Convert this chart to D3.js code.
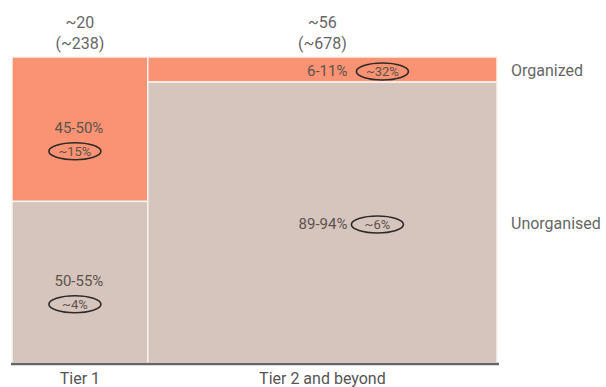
<!DOCTYPE html>
<html>
<head>
<meta charset="utf-8">
<script src="https://cdn.jsdelivr.net/npm/d3@7"></script>
<style>
  html, body { margin: 0; padding: 0; background: #fff; }
  svg { display: block; font-family: Roboto, 'Noto Sans', sans-serif; }
</style>
</head>
<body>
<svg id="chart" width="606" height="387"></svg>
<script>
const tiers = ['Tier 1', 'Tier 2 and beyond'];
const tierCounts = ['~20', '~56'];
const tierSubCounts = ['(~238)', '(~678)'];
const tierWidthShare = [28, 72];
const segments = ['Organized', 'Unorganised'];
const organizedShare = [47.2, 8.2];
const rangeLabels = [['45-50%', '50-55%'], ['6-11%', '89-94%']];
const growthLabels = [['~15%', '~4%'], ['~32%', '~6%']];

const svg = d3.select('#chart');
const x = d3.scaleLinear([0, 100], [12, 497]);
const y = d3.scaleLinear([0, 100], [57, 363]);
const color = d3.scaleOrdinal(segments, ['#f99373', '#d5c5bc']);

// build mosaic cells
const cells = [];
let x0 = 0;
tiers.forEach((t, i) => {
  const w = tierWidthShare[i];
  const org = organizedShare[i];
  cells.push({ tier: i, seg: 0, x0, x1: x0 + w, y0: 0, y1: org });
  cells.push({ tier: i, seg: 1, x0, x1: x0 + w, y0: org, y1: 100 });
  x0 += w;
});

svg.append('g').selectAll('rect').data(cells).join('rect')
  .attr('x', (d) => x(d.x0)).attr('y', (d) => y(d.y0))
  .attr('width', (d) => x(d.x1) - x(d.x0)).attr('height', (d) => y(d.y1) - y(d.y0))
  .attr('fill', (d) => color(segments[d.seg]))
  .attr('stroke', '#fbf3ef').attr('stroke-width', 1.5);

// baseline
svg.append('line').attr('x1', x(0) - 1).attr('x2', x(100) + 2).attr('y1', y(100) + 1).attr('y2', y(100) + 1)
  .attr('stroke', '#666').attr('stroke-width', 2.5);

const cx = (d) => (x(d.x0) + x(d.x1)) / 2;
const cy = (d) => (y(d.y0) + y(d.y1)) / 2;

// cell labels
const lab = svg.append('g').selectAll('g').data(cells).join('g');
lab.each(function (d) {
  const g = d3.select(this);
  const range = rangeLabels[d.tier][d.seg];
  const growth = growthLabels[d.tier][d.seg];
  let tx, ty, ex, ey, anchor;
  if (d.tier === 0) {
    tx = cx(d) - 1; ty = cy(d) + 4; anchor = 'middle';
    ex = cx(d) - 5; ey = cy(d) + 22;
  } else {
    tx = cx(d) + 25; ty = cy(d) + 6; anchor = 'end';
    ex = cx(d) + (d.seg === 0 ? 60 : 55); ey = cy(d) + 2;
  }
  g.append('text').attr('x', tx).attr('y', ty).attr('text-anchor', anchor)
    .attr('font-size', 15).attr('fill', '#5e524d').text(range);
  g.append('ellipse').attr('cx', ex).attr('cy', ey).attr('rx', 26).attr('ry', 8.5)
    .attr('fill', 'none').attr('stroke', '#2e2a28').attr('stroke-width', 1.6);
  g.append('text').attr('x', ex).attr('y', ey + 4.5).attr('text-anchor', 'middle')
    .attr('font-size', 13).attr('fill', '#5e524d').text(growth);
});

// tier header and footer labels
const tierCells = cells.filter((d) => d.seg === 0);
svg.append('g').selectAll('text').data(tierCells).join('text')
  .attr('x', cx).attr('y', 28).attr('text-anchor', 'middle')
  .attr('font-size', 16).attr('fill', '#666').text((d) => tierCounts[d.tier]);
svg.append('g').selectAll('text').data(tierCells).join('text')
  .attr('x', cx).attr('y', 49).attr('text-anchor', 'middle')
  .attr('font-size', 16).attr('fill', '#666').text((d) => tierSubCounts[d.tier]);
svg.append('g').selectAll('text').data(tierCells).join('text')
  .attr('x', cx).attr('y', 384).attr('text-anchor', 'middle')
  .attr('font-size', 16).attr('fill', '#555').text((d) => tiers[d.tier]);

// segment labels on the right
const rightCells = cells.filter((d) => d.tier === 1);
svg.append('g').selectAll('text').data(rightCells).join('text')
  .attr('x', x(100) + 14).attr('y', (d) => cy(d) + 6)
  .attr('font-size', 16).attr('fill', '#666').text((d) => segments[d.seg]);
</script>
</body>
</html>
